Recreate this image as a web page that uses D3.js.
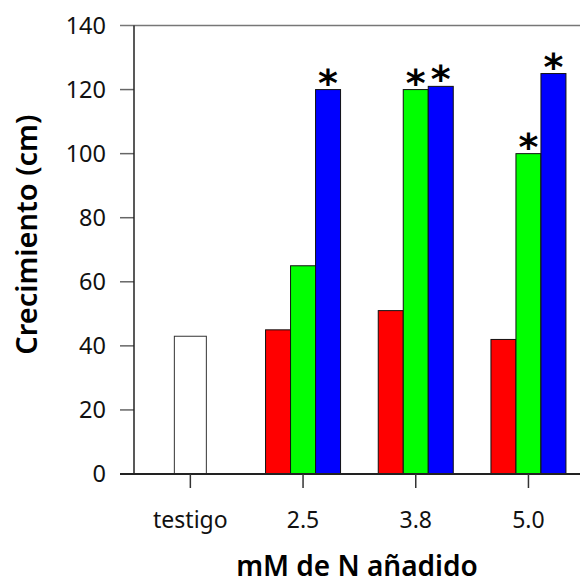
<!DOCTYPE html>
<html>
<head>
<meta charset="utf-8">
<script src="https://cdn.jsdelivr.net/npm/d3@7"></script>
<style>
  body { margin: 0; background: #fff; }
  svg { font-family: "Noto Sans", "Open Sans", sans-serif; }
</style>
</head>
<body>
<div id="result"></div>
<script>
(function(){
  'use strict';

  var categories = ["testigo", "2.5", "3.8", "5.0"];
  var testigo = 43;
  var groups = ["2.5", "3.8", "5.0"];
  var red   = [45, 51, 42];
  var green = [65, 120, 100];
  var blue  = [120, 121, 125];
  var starGreen = [false, true, true];
  var starBlue  = [true, true, true];
  var yTicks = [0, 20, 40, 60, 80, 100, 120, 140];

  var option = {
    "width": 580,
    "height": 584,
    "left": 134,
    "step": 112.7,
    "y0": 474,
    "y1": 25.5
  };

  var svg = d3.select("#result")
    .append("svg")
    .attr("width", option.width)
    .attr("height", option.height);

  var x = d3.scaleBand()
    .domain(categories)
    .range([option.left, option.left + option.step * categories.length])
    .paddingInner(0).paddingOuter(0);

  var y = d3.scaleLinear().domain([0, 140]).range([option.y0, option.y1]);

  var sub = d3.scaleBand().domain([0, 1, 2]).range([-37.5, 37.5]);

  // top frame line and y ticks
  svg.append("line")
    .attr("x1", 120).attr("x2", option.width)
    .attr("y1", y(140)).attr("y2", y(140))
    .attr("stroke", "#777").attr("stroke-width", 1.5);

  svg.selectAll(".ytick")
    .data(yTicks.slice(0, -1))
    .enter().append("line")
    .attr("x1", 120).attr("x2", option.left)
    .attr("y1", function(d){ return y(d); })
    .attr("y2", function(d){ return y(d); })
    .attr("stroke", "#666").attr("stroke-width", 1.5);

  svg.selectAll(".ylab")
    .data(yTicks)
    .enter().append("text")
    .attr("x", 106)
    .attr("y", function(d){ return y(d); })
    .attr("dy", "0.36em")
    .attr("text-anchor", "end")
    .attr("font-size", 23.5)
    .attr("fill", "#111")
    .text(function(d){ return d; });

  // bars
  var bars = [];
  groups.forEach(function(g, i){
    bars.push({cat: g, k: 0, v: red[i], c: "#ff0000", star: false});
    bars.push({cat: g, k: 1, v: green[i], c: "#00ff00", star: starGreen[i]});
    bars.push({cat: g, k: 2, v: blue[i], c: "#0000ff", star: starBlue[i]});
  });

  function cx(d){ return x(d.cat) + x.bandwidth() / 2; }

  svg.append("rect")
    .attr("x", x("testigo") + x.bandwidth() / 2 - 16)
    .attr("y", y(testigo))
    .attr("width", 32)
    .attr("height", y(0) - y(testigo))
    .attr("fill", "#fff")
    .attr("stroke", "#333").attr("stroke-width", 1);

  svg.selectAll(".bar")
    .data(bars)
    .enter().append("rect")
    .attr("x", function(d){ return cx(d) + sub(d.k); })
    .attr("y", function(d){ return y(d.v); })
    .attr("width", sub.bandwidth())
    .attr("height", function(d){ return y(0) - y(d.v); })
    .attr("fill", function(d){ return d.c; })
    .attr("stroke", "#111").attr("stroke-width", 1);

  svg.selectAll(".star")
    .data(bars.filter(function(d){ return d.star; }))
    .enter().append("text")
    .attr("x", function(d){ return cx(d) + sub(d.k) + sub.bandwidth() / 2; })
    .attr("y", function(d){ return y(d.v) + 6; })
    .attr("text-anchor", "middle")
    .attr("font-size", 38)
    .attr("font-weight", "bold")
    .attr("font-family", "DejaVu Sans, sans-serif")
    .attr("fill", "#000")
    .text("*");

  // axes lines
  svg.append("line")
    .attr("x1", option.left).attr("x2", option.left)
    .attr("y1", y(140)).attr("y2", y(0))
    .attr("stroke", "#222").attr("stroke-width", 1.5);

  svg.append("line")
    .attr("x1", 120).attr("x2", option.width)
    .attr("y1", y(0)).attr("y2", y(0))
    .attr("stroke", "#222").attr("stroke-width", 2);

  svg.selectAll(".xtick")
    .data(categories)
    .enter().append("line")
    .attr("x1", function(d){ return x(d) + x.bandwidth() / 2; })
    .attr("x2", function(d){ return x(d) + x.bandwidth() / 2; })
    .attr("y1", y(0)).attr("y2", y(0) + 14)
    .attr("stroke", "#333").attr("stroke-width", 1.5);

  svg.selectAll(".xlab")
    .data(categories)
    .enter().append("text")
    .attr("x", function(d){ return x(d) + x.bandwidth() / 2; })
    .attr("y", 528)
    .attr("text-anchor", "middle")
    .attr("font-size", 23)
    .attr("fill", "#111")
    .text(function(d){ return d; });

  svg.append("text")
    .attr("x", 357).attr("y", 576)
    .attr("text-anchor", "middle")
    .attr("font-size", 28)
    .attr("font-weight", 600)
    .attr("fill", "#000")
    .text("mM de N añadido");

  svg.append("text")
    .attr("transform", "translate(37," + ((y(0) + y(140)) / 2 - 15) + ") rotate(-90)")
    .attr("text-anchor", "middle")
    .attr("font-size", 29)
    .attr("font-weight", 600)
    .attr("fill", "#000")
    .text("Crecimiento (cm)");
})();
</script>
</body>
</html>
